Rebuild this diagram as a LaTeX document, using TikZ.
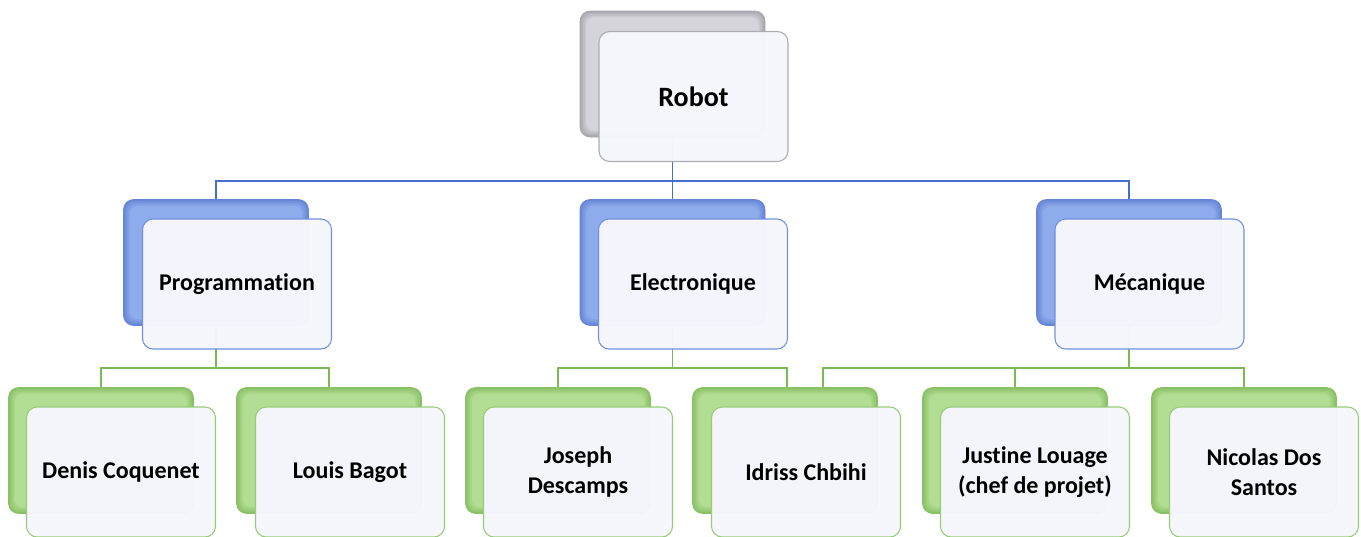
\documentclass[tikz,border=0pt]{standalone}
\usepackage{fontspec}
\setmainfont{Carlito}[Ligatures=NoCommon]

\definecolor{grayedge}{RGB}{168,168,174}
\definecolor{graycore}{RGB}{212,212,218}
\definecolor{grayline}{RGB}{172,172,180}
\definecolor{blueedge}{RGB}{104,134,214}
\definecolor{bluecore}{RGB}{142,172,236}
\definecolor{blueline}{RGB}{112,144,222}
\definecolor{greenedge}{RGB}{138,192,102}
\definecolor{greencore}{RGB}{178,222,148}
\definecolor{greenline}{RGB}{150,204,118}
\definecolor{frontfill}{RGB}{246,246,253}
\definecolor{wireblue}{RGB}{70,110,204}
\definecolor{wiregreen}{RGB}{122,186,84}

\tikzset{
  % shadowed card at the back: darker rim, lighter core
  backbox/.style 2 args={
    draw=#1, line width=0.5pt, fill=#1,
    rounded corners=7.5pt, inner sep=0pt,
    minimum width=185*0.75pt, minimum height=126*0.75pt,
    path picture={
      \foreach \k/\m in {1.2/25,2.4/50,3.6/75,4.8/100}
        \fill[rounded corners=6pt, #2!\m!#1]
          ([shift={(\k pt,-\k pt)}]path picture bounding box.north west)
          rectangle
          ([shift={(-\k pt,\k pt)}]path picture bounding box.south east);
    }
  },
  % light card in front, holding the label
  frontbox/.style={
    draw=#1, line width=0.8pt, fill=frontfill, fill opacity=0.98,
    text opacity=1, rounded corners=8pt, inner sep=0pt,
    minimum width=189*0.75pt, minimum height=130*0.75pt,
    align=center, font=\bfseries\fontsize{18}{22.2}\selectfont
  },
  topfont/.style={font=\bfseries\fontsize{21}{25}\selectfont},
  bluewire/.style={draw=wireblue, line width=0.9pt},
  greenwire/.style={draw=wiregreen, line width=1.1pt}
}

\begin{document}
\begin{tikzpicture}[x=0.75pt,y=-0.75pt]
\useasboundingbox (0,0) rectangle (1361,536);

% back cards
\node[backbox={grayedge}{graycore}] (robotB) at (672.5,74) {};
\node[backbox={blueedge}{bluecore}] (progB) at (216,262.5) {};
\node[backbox={blueedge}{bluecore}] (elecB) at (672.5,262.5) {};
\node[backbox={blueedge}{bluecore}] (mecaB) at (1129,262.5) {};
\node[backbox={greenedge}{greencore}] (denisB) at (101,450.5) {};
\node[backbox={greenedge}{greencore}] (louisB) at (329,450.5) {};
\node[backbox={greenedge}{greencore}] (josephB) at (558,450.5) {};
\node[backbox={greenedge}{greencore}] (idrissB) at (785,450.5) {};
\node[backbox={greenedge}{greencore}] (justineB) at (1015,450.5) {};
\node[backbox={greenedge}{greencore}] (nicolasB) at (1244,450.5) {};

% first level links
\coordinate (hubA) at (672.5,181);
\draw[bluewire] (robotB.south) -- (hubA) -| (progB.north);
\draw[bluewire] (hubA) -| (mecaB.north);
\draw[bluewire] (hubA) -- (elecB.north);

% second level links
\coordinate (hubP) at (216,368);
\draw[greenwire] (progB.south) -- (hubP) -| (denisB.north);
\draw[greenwire] (hubP) -| (louisB.north);

\coordinate (hubE) at (672.5,368);
\draw[greenwire] (elecB.south) -- (hubE) -| (josephB.north);
\draw[greenwire] (hubE) -| ([xshift=1.5pt]idrissB.north);

\coordinate (hubM) at (1129,368);
\draw[greenwire] (mecaB.south) -- (hubM) -| (justineB.north);
\draw[greenwire] (hubM) -| (nicolasB.north);
\draw[greenwire] (hubM) -| ([xshift=28.5pt]idrissB.north);

% front cards with labels
\node[frontbox=grayline, topfont] (robotF) at (693.5,96.5) {Robot};
\node[frontbox=blueline] (progF) at (237,284) {Programmation};
\node[frontbox=blueline] (elecF) at (693,284) {Electronique};
\node[frontbox=blueline] (mecaF) at (1149.5,284) {Mécanique};
\node[frontbox=greenline] (denisF) at (121,472) {Denis Coquenet};
\node[frontbox=greenline] (louisF) at (350,472) {Louis Bagot};
\node[frontbox=greenline] (josephF) at (578,472) {Joseph\\Descamps};
\node[frontbox=greenline] (idrissF) at (806,472) {Idriss Chbihi};
\node[frontbox=greenline] (justineF) at (1035,472) {Justine Louage\\(chef de projet)};
\node[frontbox=greenline] (nicolasF) at (1264,472) {Nicolas Dos\\Santos};
\end{tikzpicture}
\end{document}
